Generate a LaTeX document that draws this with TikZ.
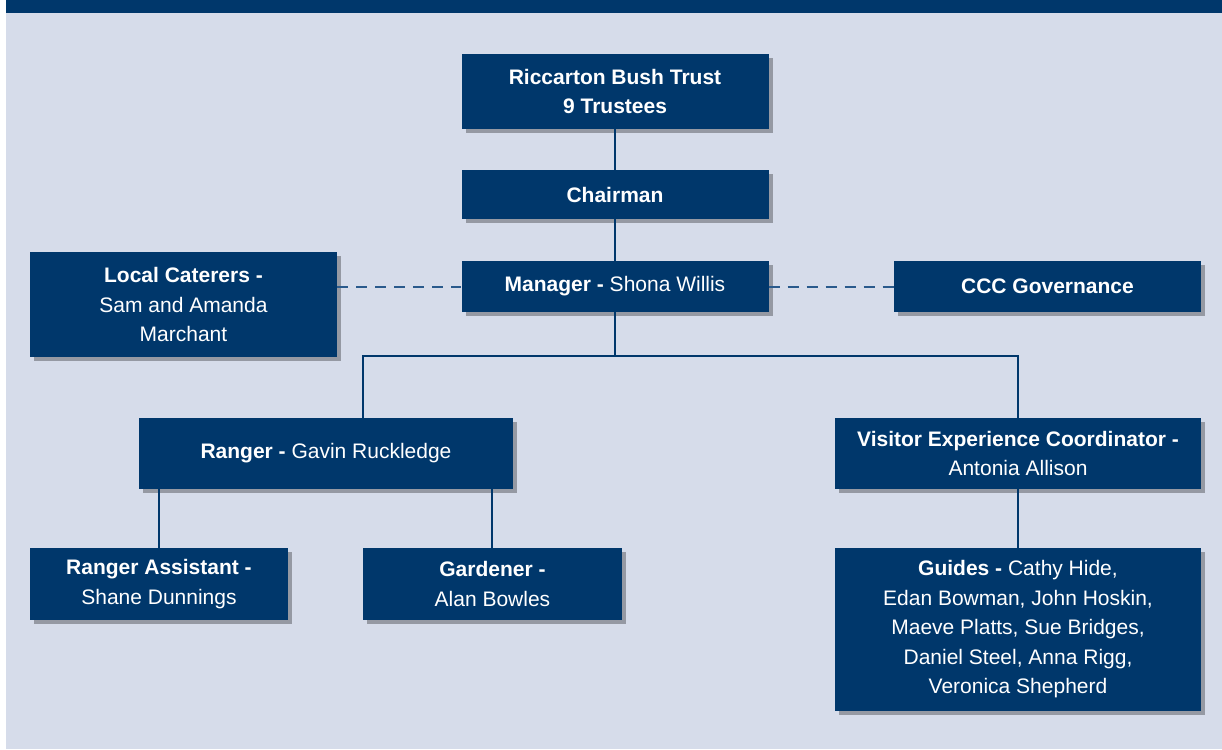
\documentclass[tikz,border=0pt]{standalone}
\usepackage{fontspec}
\setmainfont{Liberation Sans}
\usetikzlibrary{shadows}
\definecolor{trustblue}{HTML}{00376B}
\definecolor{paleblue}{HTML}{D6DCEA}
\definecolor{dashblue}{HTML}{2A5A8C}
\tikzset{
  orgbox/.style={draw=none,fill=trustblue,text=white,align=center,inner sep=0pt,
    font=\fontsize{21}{29.5}\selectfont,
    drop shadow={shadow xshift=4pt,shadow yshift=-4pt,fill=black,opacity=.3}},
  treeline/.style={draw=trustblue,line width=1.4pt},
  dashline/.style={draw=dashblue,line width=2pt,dash pattern=on 11pt off 8pt}
}
\begin{document}
\begin{tikzpicture}[x=1pt,y=-1pt]
\useasboundingbox (0,0) rectangle (1222,749);
%background
\fill[paleblue](6,13) rectangle (1222,749);
\fill[trustblue](6,0) rectangle (1222,13);
%boxes
\node[orgbox,minimum width=307pt,minimum height=75pt](trust)at(615,91.5){\textbf{Riccarton Bush Trust}\\\textbf{9 Trustees}};
\node[orgbox,minimum width=307pt,minimum height=49pt](chair)at(615,194.5){\textbf{Chairman}};
\node[orgbox,minimum width=307pt,minimum height=51pt](manager)at(615,286.5){\textbf{Manager -} Shona Willis};
\node[orgbox,minimum width=307pt,minimum height=105pt](caterers)at(183.5,304.5){\textbf{Local Caterers -}\\Sam and Amanda\\Marchant};
\node[orgbox,minimum width=307pt,minimum height=51pt](ccc)at(1047.5,286.5){\textbf{CCC Governance}};
\node[orgbox,minimum width=374pt,minimum height=71pt](ranger)at(326,453.5){\textbf{Ranger -} Gavin Ruckledge};
\node[orgbox,minimum width=366pt,minimum height=71pt](visitor)at(1018,453.5){\textbf{Visitor Experience Coordinator -}\\Antonia Allison};
\node[orgbox,minimum width=258pt,minimum height=72pt](assistant)at(159,584){\textbf{Ranger Assistant -}\\Shane Dunnings};
\node[orgbox,minimum width=259pt,minimum height=72pt](gardener)at(492.5,584){\textbf{Gardener -}\\Alan Bowles};
\node[orgbox,minimum width=366pt,minimum height=163pt](guides)at(1018,629.5){\textbf{Guides -} Cathy Hide,\\Edan Bowman, John Hoskin,\\Maeve Platts, Sue Bridges,\\Daniel Steel, Anna Rigg,\\Veronica Shepherd};
%connectors
\coordinate(split)at(615,356);
\draw[treeline](trust.south)--(chair.north);
\draw[treeline](chair.south)--(manager.north);
\draw[treeline](manager.south)--(split);
\draw[treeline](split)-|(ranger.north-|363,0);
\draw[treeline](split)-|(visitor.north);
\draw[treeline](ranger.south-|159,0)--(assistant.north-|159,0);
\draw[treeline](ranger.south-|492,0)--(gardener.north-|492,0);
\draw[treeline](visitor.south)--(guides.north);
\draw[dashline](caterers.east|-manager.west)--(manager.west);
\draw[dashline](manager.east)--(ccc.west);
\end{tikzpicture}
\end{document}
